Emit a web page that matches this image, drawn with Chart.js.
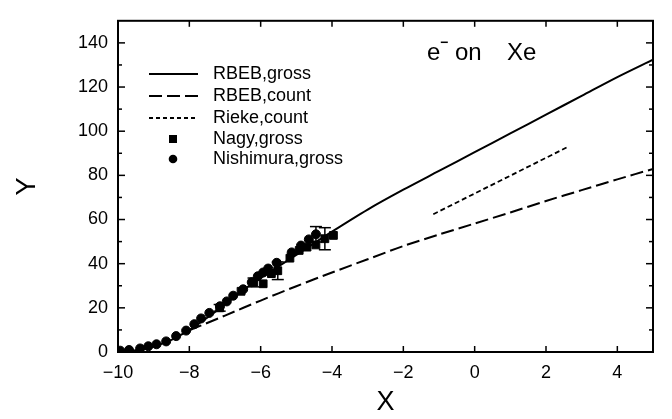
<!DOCTYPE html>
<html>
<head>
<meta charset="utf-8">
<script src="https://cdn.jsdelivr.net/npm/chart.js@4.4.1/dist/chart.umd.min.js"></script>
<style>
  html, body { margin: 0; padding: 0; background: #fff; }
</style>
</head>
<body>
<canvas id="xeChart" width="672" height="419"></canvas>
<script>
// values
const grossX = [-10, -9.5, -9, -8.5, -8, -7.5, -7, -6.5, -6, -5, -4, -3, -2, -1, 0, 1, 2, 3, 4, 5];
const grossY = [0, 0.8, 2.5, 5.5, 10, 15.5, 21.5, 28, 33.5, 44, 54.5, 64.5, 73.5, 82, 90.5, 99, 107.5, 116, 124.5, 132.4];

const countX = [-8, -7, -6, -5, -4, -3, -2, -1, 0, 1, 2, 3, 4, 5];
const countY = [9.8, 16.5, 23.3, 29.8, 36, 42, 48, 53.2, 58.2, 63.2, 68.4, 73.3, 78.2, 82.9];

const riekeX = [-1.16, 2.65];
const riekeY = [62.4, 93.2];

const nagyX = [-7.15, -6.55, -6.2, -5.93, -5.7, -5.52, -5.18, -4.92, -4.7, -4.45, -4.2, -3.96];
const nagyY = [20.0, 27.5, 31.5, 30.9, 35.5, 36.8, 42.5, 46.0, 47.5, 48.5, 51.3, 52.8];
const nagyErr = [1.5, 0, 2, 0, 0, 4, 0, 0, 0, 0, 5, 0];

const nishX = [-9.94, -9.69, -9.38, -9.15, -8.92, -8.65, -8.37, -8.09, -7.86, -7.67, -7.44, -7.14,
               -6.95, -6.77, -6.49, -6.25, -6.08, -5.93, -5.79, -5.55, -5.13, -4.87, -4.65, -4.45];
const nishY = [0.6, 0.9, 1.6, 2.6, 3.5, 4.8, 7.2, 9.7, 12.6, 15.2, 17.7, 20.7,
               22.9, 25.5, 28.4, 31.6, 34.3, 36.0, 37.8, 40.4, 45.1, 48.2, 51.0, 53.3];
const nishErr = [0, 0, 0, 0, 0, 0, 0, 0, 0, 0, 0, 0, 0, 0, 0, 0, 0, 0, 0, 0, 0, 0, 0, 3.5];

const xTicks = [-10, -8, -6, -4, -2, 0, 2, 4];
const yTicks = [0, 20, 40, 60, 80, 100, 120, 140];
const yMinor = [10, 30, 50, 70, 90, 110, 130];

const FONT = '"Liberation Sans", Arial, sans-serif';

function pts(xs, ys) {
  return xs.map((x, i) => ({ x: x, y: ys[i] }));
}
function minus(v) {
  return String(v).replace('-', '\u2212');
}

// frame, inward ticks, error bars, legend and the label inside the plot
const figurePlugin = {
  id: 'figure',
  afterDatasetsDraw(chart) {
    const ctx = chart.ctx;
    const xs = chart.scales.x, ys = chart.scales.y;
    const a = chart.chartArea;
    const seg = (x1, y1, x2, y2) => { ctx.beginPath(); ctx.moveTo(x1, y1); ctx.lineTo(x2, y2); ctx.stroke(); };
    ctx.save();
    ctx.strokeStyle = '#000';
    ctx.fillStyle = '#000';

    // error bars
    ctx.lineWidth = 1.5;
    const bars = (xv, yv, ev) => {
      xv.forEach((x, i) => {
        if (!ev[i]) return;
        const px = xs.getPixelForValue(x);
        const t = ys.getPixelForValue(yv[i] + ev[i]);
        const b = ys.getPixelForValue(yv[i] - ev[i]);
        seg(px, t, px, b);
        seg(px - 6, t, px + 6, t);
        seg(px - 6, b, px + 6, b);
      });
    };
    bars(nagyX, nagyY, nagyErr);
    bars(nishX, nishY, nishErr);

    // frame
    ctx.lineWidth = 2;
    ctx.strokeRect(a.left, a.top, a.right - a.left, a.bottom - a.top);

    // ticks pointing inward
    ctx.lineWidth = 1.5;
    xTicks.forEach(v => {
      const px = xs.getPixelForValue(v);
      seg(px, a.bottom, px, a.bottom - 6);
      seg(px, a.top, px, a.top + 6);
    });
    yTicks.forEach(v => {
      const py = ys.getPixelForValue(v);
      seg(a.left, py, a.left + 7, py);
      seg(a.right, py, a.right - 7, py);
    });
    yMinor.forEach(v => {
      const py = ys.getPixelForValue(v);
      seg(a.left, py, a.left + 4, py);
      seg(a.right, py, a.right - 4, py);
    });

    // legend
    const rows = [74, 96, 118, 139, 159];
    ctx.font = '18px ' + FONT;
    ctx.textBaseline = 'middle';
    ctx.textAlign = 'left';
    chart.data.datasets.forEach((ds, i) => {
      const y = rows[i];
      if (ds.showLine) {
        ctx.lineWidth = ds.borderWidth;
        ctx.setLineDash(ds.legendDash || []);
        seg(149, y, 198, y);
        ctx.setLineDash([]);
      } else if (ds.pointStyle === 'rect') {
        ctx.fillRect(169, y - 4, 8, 8);
      } else {
        ctx.beginPath();
        ctx.arc(173, y, 4.3, 0, Math.PI * 2);
        ctx.fill();
      }
      ctx.fillText(ds.label, 213, y);
    });

    // e- on Xe
    ctx.textBaseline = 'alphabetic';
    ctx.font = '24px ' + FONT;
    ctx.fillText('e', 427, 60);
    ctx.fillText('on', 455, 60);
    ctx.fillText('Xe', 507, 60);
    ctx.font = 'bold 14px ' + FONT;
    ctx.fillText('\u2212', 440, 47);

    ctx.restore();
  }
};

new Chart(document.getElementById('xeChart'), {
  type: 'scatter',
  data: {
    datasets: [
      {
        label: 'RBEB,gross',
        data: pts(grossX, grossY),
        showLine: true,
        borderColor: '#000',
        borderWidth: 2,
        pointRadius: 0,
        tension: 0.3
      },
      {
        label: 'RBEB,count',
        data: pts(countX, countY),
        showLine: true,
        borderColor: '#000',
        borderWidth: 2,
        borderDash: [13, 5],
        legendDash: [13, 5],
        pointRadius: 0,
        tension: 0.3
      },
      {
        label: 'Rieke,count',
        data: pts(riekeX, riekeY),
        showLine: true,
        borderColor: '#000',
        borderWidth: 1.8,
        borderDash: [5, 3],
        legendDash: [4, 3],
        pointRadius: 0
      },
      {
        label: 'Nagy,gross',
        data: pts(nagyX, nagyY),
        pointStyle: 'rect',
        pointRadius: 5.5,
        backgroundColor: '#000',
        borderColor: '#000'
      },
      {
        label: 'Nishimura,gross',
        data: pts(nishX, nishY),
        pointStyle: 'circle',
        pointRadius: 4.5,
        backgroundColor: '#000',
        borderColor: '#000'
      }
    ]
  },
  options: {
    responsive: false,
    animation: false,
    layout: { padding: { top: 10, right: 19, left: 0, bottom: 0 } },
    plugins: {
      legend: { display: false },
      tooltip: { enabled: false }
    },
    scales: {
      x: {
        type: 'linear',
        min: -10,
        max: 5,
        afterBuildTicks: s => { s.ticks = xTicks.map(v => ({ value: v })); },
        afterFit: s => { s.height = 67; },
        grid: { display: false, drawTicks: false },
        border: { display: false },
        ticks: {
          color: '#000',
          padding: 10,
          maxRotation: 0,
          font: { family: FONT, size: 18 },
          callback: v => minus(v)
        },
        title: {
          display: true,
          text: 'X',
          color: '#000',
          padding: { top: 0, bottom: 0 },
          font: { family: FONT, size: 27 }
        }
      },
      y: {
        type: 'linear',
        min: 0,
        max: 150,
        afterBuildTicks: s => { s.ticks = yTicks.map(v => ({ value: v })); },
        afterFit: s => { s.width = 118; },
        grid: { display: false, drawTicks: false },
        border: { display: false },
        ticks: {
          color: '#000',
          padding: 10,
          font: { family: FONT, size: 18 },
          callback: v => minus(v)
        },
        title: {
          display: true,
          text: 'Y',
          color: '#000',
          padding: { top: 11, bottom: 0 },
          font: { family: FONT, size: 27 }
        }
      }
    }
  },
  plugins: [figurePlugin]
});
</script>
</body>
</html>
